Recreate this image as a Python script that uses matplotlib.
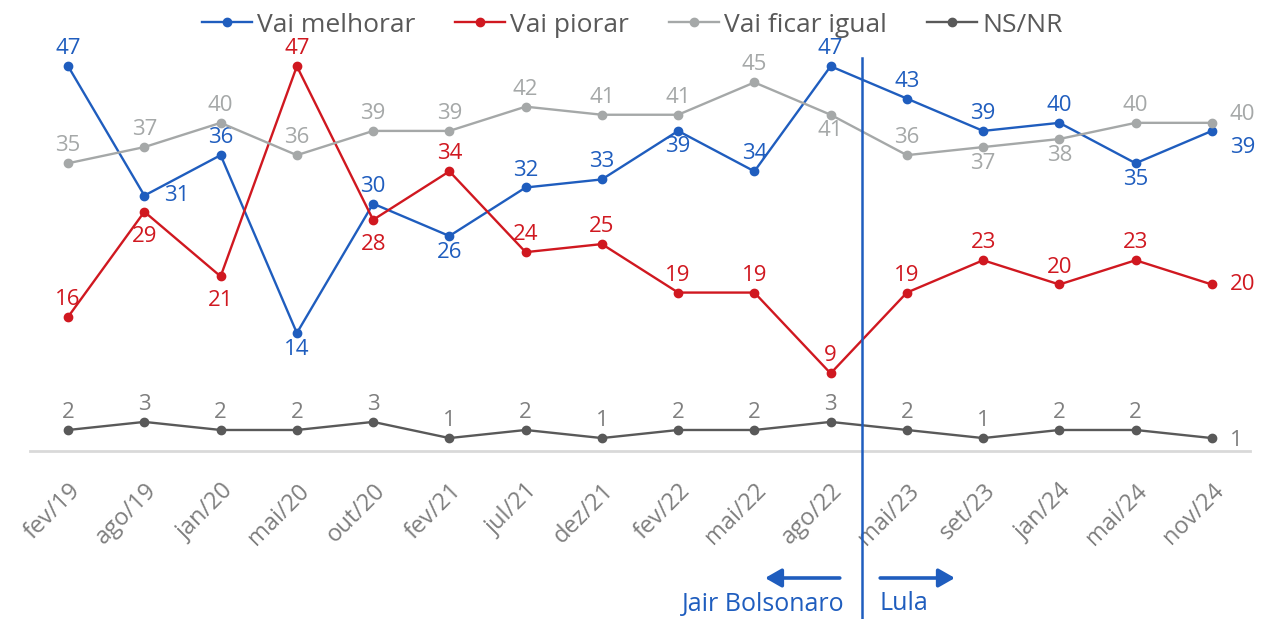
import matplotlib
matplotlib.use("Agg")
import matplotlib.pyplot as plt
from matplotlib.lines import Line2D
import matplotlib.transforms as mtransforms

plt.rcParams['font.family'] = ['Open Sans', 'DejaVu Sans']

periods = ["fev/19", "ago/19", "jan/20", "mai/20", "out/20", "fev/21", "jul/21", "dez/21",
           "fev/22", "mai/22", "ago/22", "mai/23", "set/23", "jan/24", "mai/24", "nov/24"]

melhorar = [47, 31, 36, 14, 30, 26, 32, 33, 39, 34, 47, 43, 39, 40, 35, 39]
piorar = [16, 29, 21, 47, 28, 34, 24, 25, 19, 19, 9, 19, 23, 20, 23, 20]
igual = [35, 37, 40, 36, 39, 39, 42, 41, 41, 45, 41, 36, 37, 38, 40, 40]
nsnr = [2, 3, 2, 2, 3, 1, 2, 1, 2, 2, 3, 2, 1, 2, 2, 1]

# label placement: 'a' above, 'b' below, 'B' further below, 'r' right, 'e' end label
pos_melhorar = "arababaabaaaaabe"
pos_piorar = "aBBaBaaaaaaaaaae"
pos_igual = "aaaaaaaaaababbae"
pos_nsnr = "aaaaaaaaaaaaaaae"

BLUE = "#1F5DBE"
RED = "#D01820"
GRAY = "#A5A8A8"
DARK = "#595959"
TXT = "#7F7F7F"

fig = plt.figure(figsize=(12.63, 6.19), dpi=100)
ax = fig.add_axes([30 / 1263, (619 - 451) / 619, 1220 / 1263, (451 - 42) / 619])

x = list(range(len(periods)))
series = [
    ("Vai melhorar", melhorar, BLUE, BLUE, pos_melhorar, -12),
    ("Vai piorar", piorar, RED, RED, pos_piorar, 0),
    ("Vai ficar igual", igual, GRAY, GRAY, pos_igual, 6),
    ("NS/NR", nsnr, DARK, TXT, pos_nsnr, -2),
]

LFS = 16
for name, vals, col, tcol, pos, rdy in series:
    ax.plot(x, vals, color=col, lw=1.7, marker="o", ms=6, label=name, zorder=3)
    for xi, v, p in zip(x, vals, pos):
        if p == "a":
            ax.annotate(str(v), (xi, v), xytext=(0, 5), textcoords="offset points",
                        ha="center", va="bottom", color=tcol, fontsize=LFS)
        elif p == "b":
            ax.annotate(str(v), (xi, v), xytext=(0, -4), textcoords="offset points",
                        ha="center", va="top", color=tcol, fontsize=LFS)
        elif p == "B":
            ax.annotate(str(v), (xi, v), xytext=(0, -10), textcoords="offset points",
                        ha="center", va="top", color=tcol, fontsize=LFS)
        elif p == "r":
            ax.annotate(str(v), (xi, v), xytext=(14, 0), textcoords="offset points",
                        ha="left", va="center", color=tcol, fontsize=LFS)
        else:
            ax.annotate(str(v), (xi, v), xytext=(13, rdy), textcoords="offset points",
                        ha="left", va="center", color=tcol, fontsize=LFS)

ax.set_xlim(-0.5, len(periods) - 0.5)
ax.set_ylim(-0.6, 50)
for s in ["top", "right", "left"]:
    ax.spines[s].set_visible(False)
ax.spines["bottom"].set_color("#D9D9D9")
ax.spines["bottom"].set_linewidth(2)
ax.set_yticks([])
ax.set_xticks(x)
ax.set_xticklabels(periods, rotation=45, ha="right", rotation_mode="anchor",
                   color=TXT, fontsize=17)
ax.tick_params(axis="x", length=0, pad=20)

# Government change divider
trans = mtransforms.blended_transform_factory(ax.transData, fig.transFigure)
xdiv = 10.41
fig.add_artist(Line2D([xdiv, xdiv], [0, (619 - 58) / 619], transform=trans,
                      color=BLUE, lw=1.8))
yarr = (619 - 578) / 619
arrow_kw = dict(arrowstyle="-|>,head_length=0.7,head_width=0.4", color=BLUE, lw=2.6,
                mutation_scale=14, shrinkA=0, shrinkB=0)
ax.annotate("", xy=(9.14, yarr), xytext=(10.12, yarr), xycoords=trans, textcoords=trans,
            arrowprops=arrow_kw)
ax.annotate("", xy=(11.63, yarr), xytext=(10.65, yarr), xycoords=trans, textcoords=trans,
            arrowprops=arrow_kw)
fig.text(845 / 1263, (619 - 604) / 619, "Jair Bolsonaro", ha="right", va="center",
         color=BLUE, fontsize=18)
fig.text(879 / 1263, (619 - 604) / 619, "Lula", ha="left", va="center",
         color=BLUE, fontsize=18)

leg = fig.legend(loc="center", bbox_to_anchor=(632 / 1263, (619 - 25) / 619), ncol=4,
                 frameon=False, fontsize=19, handlelength=1.9, columnspacing=1.5,
                 handletextpad=0.2, labelcolor=DARK)

fig.savefig("out.png", dpi=100)
